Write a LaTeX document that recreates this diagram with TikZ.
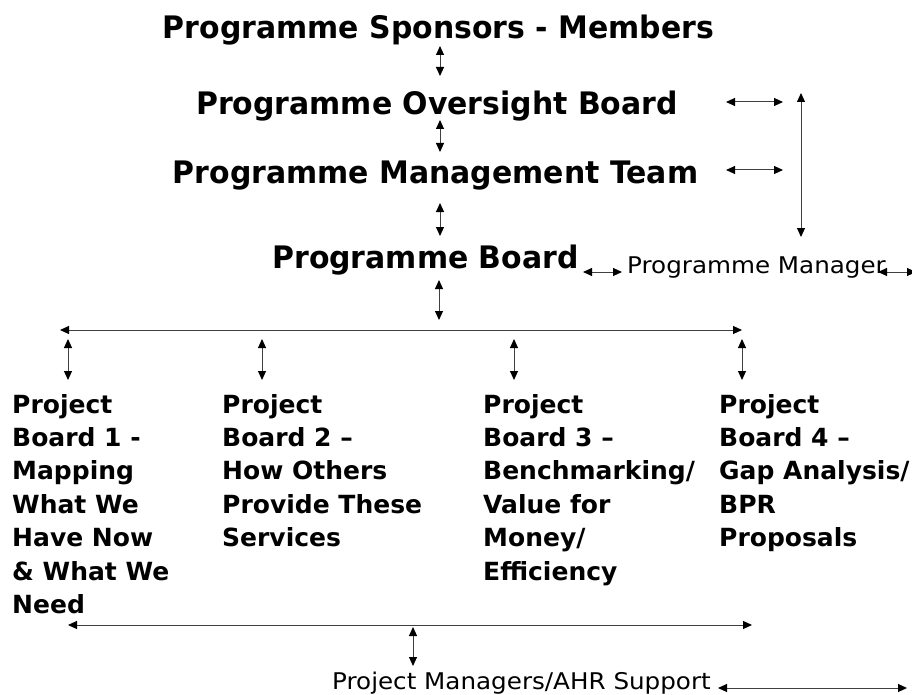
\documentclass[tikz,border=0pt]{standalone}
\usepackage{fontspec}
\usetikzlibrary{arrows.meta}
\newfontfamily\hdfont{DejaVu Sans}[FakeStretch=0.965]
\newfontfamily\pbfont{DejaVu Sans}
\newfontfamily\rgfont{DejaVu Sans}[FakeStretch=1.07]
\begin{document}
\begin{tikzpicture}[x=1pt,y=-1pt,
  title/.style={anchor=base,inner sep=0pt,font=\hdfont\bfseries\fontsize{31}{36}\selectfont},
  plain/.style={anchor=base west,inner sep=0pt,font=\rgfont\fontsize{23}{28}\selectfont},
  pbox/.style={anchor=base west,inner sep=0pt,align=left,font=\pbfont\bfseries\fontsize{25}{33.4}\selectfont},
  link/.style={line width=1pt,draw=black!75,
    {Triangle[length=9pt,width=8pt,color=black]}-{Triangle[length=9pt,width=8pt,color=black]}}]
\useasboundingbox (0,0) rectangle (912,695);

% programme hierarchy
\node[title] (spons) at (438.5,39) {Programme Sponsors - Members};
\node[title] (pob)   at (437,115) {Programme Oversight Board};
\node[title] (pmt)   at (435.5,183) {Programme Management Team};
\node[title] (pb)    at (425.5,268) {Programme Board};
\node[plain] (pm)    at (627,273) {Programme Manager};

% project boards (anchored on the baseline of their last line)
\node[pbox] (pb1) at (12,613.4) {Project\\Board 1 -\\Mapping\\What We\\Have Now\\\& What We\\Need};
\node[pbox] (pb2) at (222,546.6) {Project\\Board 2 –\\How Others\\Provide These\\Services};
\node[pbox] (pb3) at (483,580) {Project\\Board 3 –\\Benchmarking/\\Value for\\Money/\\Efficiency};
\node[pbox] (pb4) at (719,546.6) {Project\\Board 4 –\\Gap Analysis/\\BPR\\Proposals};
\node[plain] (pms) at (332,689) {Project Managers/AHR Support};

% arrow end points
\coordinate (a1t) at (440,46);  \coordinate (a1b) at (440,76);
\coordinate (a2t) at (440,120); \coordinate (a2b) at (440,152);
\coordinate (a3t) at (440,203); \coordinate (a3b) at (440,236);
\coordinate (r1l) at (726,102); \coordinate (r1r) at (783,102);
\coordinate (r2l) at (726,170); \coordinate (r2r) at (783,170);
\coordinate (vt)  at (801,93);  \coordinate (vb)  at (801,237);
\coordinate (m1l) at (583,272); \coordinate (m1r) at (622,272);
\coordinate (m2l) at (878,272); \coordinate (m2r) at (916,272);
\coordinate (a4t) at (439,280); \coordinate (a4b) at (439,320);
\coordinate (hl)  at (60,330);  \coordinate (hr)  at (742,330);
\coordinate (s1t) at (68,339);  \coordinate (s1b) at (68,380);
\coordinate (s2t) at (262,339); \coordinate (s2b) at (262,380);
\coordinate (s3t) at (514,339); \coordinate (s3b) at (514,380);
\coordinate (s4t) at (742,339); \coordinate (s4b) at (742,380);
\coordinate (bl)  at (68,625);  \coordinate (br)  at (752,625);
\coordinate (a5t) at (413,627); \coordinate (a5b) at (413,666);
\coordinate (sl)  at (718,688); \coordinate (sr)  at (907,688);

\foreach \p/\q in {a1t/a1b,a2t/a2b,a3t/a3b,r1l/r1r,r2l/r2r,vt/vb,m1l/m1r,m2l/m2r,
                   a4t/a4b,hl/hr,s1t/s1b,s2t/s2b,s3t/s3b,s4t/s4b,bl/br,a5t/a5b,sl/sr}
  \draw[link] (\p) -- (\q);
\end{tikzpicture}
\end{document}
